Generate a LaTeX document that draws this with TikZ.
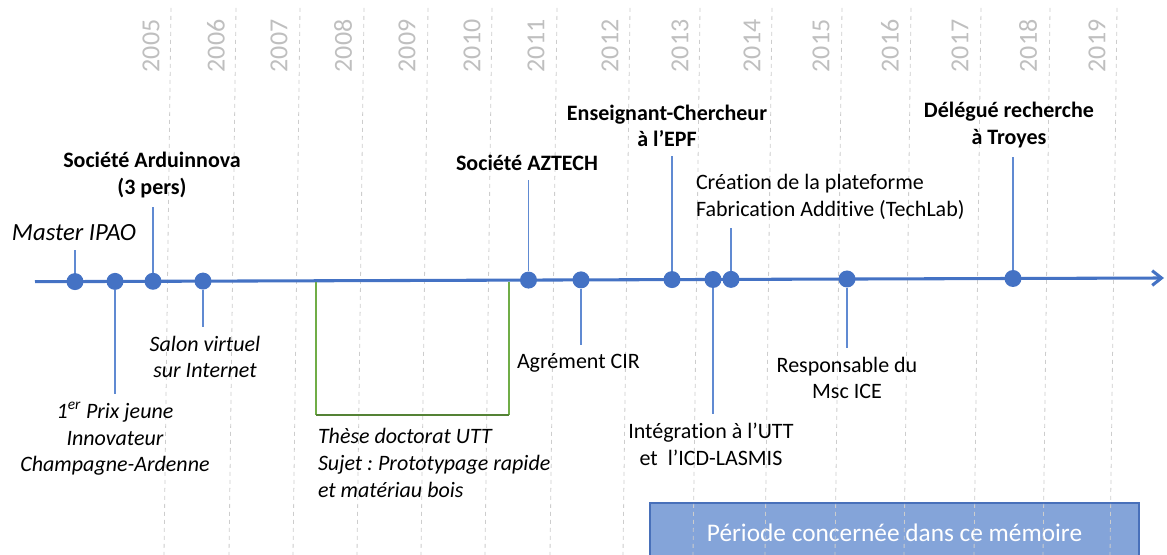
\documentclass[tikz,border=0pt]{standalone}
\usepackage{fontspec}
\setmainfont{Carlito}[Ligatures={TeX,NoCommon}]
\usetikzlibrary{positioning,arrows.meta}
\frenchspacing

\definecolor{tlBlue}{RGB}{68,114,196}
\definecolor{stemBlue}{RGB}{96,138,210}
\definecolor{yearGray}{RGB}{191,191,191}
\definecolor{gridGray}{RGB}{205,205,205}
\definecolor{theseGreen}{RGB}{112,173,71}
\definecolor{theseDark}{RGB}{84,130,53}
\definecolor{periodFill}{RGB}{122,156,214}
\definecolor{periodLine}{RGB}{72,112,186}

\tikzset{
  evt/.style={circle,fill=tlBlue,inner sep=0pt,minimum size=12.75pt},
  stemline/.style={stemBlue,line width=0.9pt},
  lbl/.style={inner sep=0.75pt,outer sep=6pt,font=\fontsize{16.5}{20}\selectfont},
  lblb/.style={lbl,font=\fontsize{16.5}{20}\selectfont\bfseries},
  lbli/.style={lbl,font=\fontsize{16.5}{20}\selectfont\itshape},
  yearlbl/.style={rotate=90,inner sep=0pt,text=yearGray,font=\fontsize{19.5}{20}\selectfont},
  yeargrid/.style={gridGray,dashed,line width=0.6pt},
}

\begin{document}
\begin{tikzpicture}[x=0.75pt,y=0.75pt,yscale=-1,xscale=1]
\useasboundingbox (0,0) rectangle (1167,555);

% Period box
\node [fill=periodFill,fill opacity=0.92,text opacity=1,draw=periodLine,line width=0.8pt,
  minimum width=366.75pt,minimum height=45pt,text=white,font=\fontsize{19}{21}\selectfont]
  (period) at (894.5,533) {Période concernée dans ce mémoire};

% Year grid
\foreach \x in {171,236,300,364,428,492,557,630,700,772,842,911,981,1050,1117}
  \draw [yeargrid] (\x,8) -- (\x-7,555);

\foreach \yr/\x in {2005/151,2006/216,2007/279,2008/343,2009/407,2010/472,2011/536,
  2012/610,2013/680,2014/752,2015/821,2016/890,2017/960,2018/1028,2019/1097}
  \node [yearlbl] (y\yr) at (\x,46) {\yr};

% Timeline
\coordinate (tlS) at (35,281.7);
\coordinate (tlE) at (1164,278);
\draw [tlBlue,line width=2.3pt,-{Straight Barb[length=7pt,width=11pt]}] (tlS) -- (tlE);

% Thesis bracket
\coordinate (thA) at (316,282);
\coordinate (thB) at (316,415);
\coordinate (thC) at (509,415);
\coordinate (thD) at (509,282);
\draw [theseGreen,line width=0.9pt] (thA) -- (thB);
\draw [theseGreen,line width=0.9pt] (thC) -- (thD);
\draw [theseDark,line width=1.8pt] (thB) -- (thC);

% Text Nodes
\draw (3,233) node (lIPAO) [lbli,anchor=west,font=\fontsize{18.5}{22}\selectfont\itshape] {Master IPAO};

\draw (152,175) node (lArd) [lblb,align=center] {Société Arduinnova\\(3 pers)};

\draw (527,163) node (lAZ) [lblb] {Société AZTECH};

\draw (667,126) node (lEPF) [lblb,align=center] {Enseignant-Chercheur\\à l’EPF};

\draw (687,197) node (lTech) [lbl,anchor=west,align=left] {Création de la plateforme\\Fabrication Additive (TechLab)};

\draw (1009,125) node (lTroy) [lblb,align=center] {Délégué recherche\\à Troyes};

\draw (205,357) node (lSalon) [lbli,align=center] {Salon virtuel\\sur Internet};

\draw (115,439) node (lPrix) [lbli,align=center] {1\textsuperscript{er} Prix jeune\\Innovateur\\Champagne-Ardenne};

\draw (309,463) node (lThese) [lbli,anchor=west,align=left] {Thèse doctorat UTT\\Sujet : Prototypage rapide\\et matériau bois};

\draw (508,363) node (lCIR) [lbl,anchor=west] {Agrément CIR};

\draw (711,444) node (lUTT) [lbl,align=center] {Intégration à l’UTT\\et~~l’ICD-LASMIS};

\draw (847,378) node (lMsc) [lbl,align=center] {Responsable du\\Msc ICE};

% Events
\node [evt] (dIPAO) at (75,281.6) {};
\node [evt] (dPrix) at (115,281.4) {};
\node [evt] (dArd) at (153,281.3) {};
\node [evt] (dSalon) at (203,281.1) {};
\node [evt] (dAZ) at (528.5,280.1) {};
\node [evt] (dCIR) at (581,279.9) {};
\node [evt] (dEPF) at (672,279.6) {};
\node [evt] (dUTT) at (713,279.5) {};
\node [evt] (dTech) at (731,279.4) {};
\node [evt] (dMsc) at (847,279) {};
\node [evt] (dTroy) at (1013,278.5) {};

% Stems up
\draw [stemline] (dIPAO.north) -- (dIPAO |- lIPAO.south);
\draw [stemline] (dArd.north) -- (dArd |- lArd.south);
\draw [stemline] (dAZ.north) -- (dAZ |- lAZ.south);
\draw [stemline] (dEPF.north) -- (dEPF |- lEPF.south);
\draw [stemline] (dTech.north) -- (dTech |- lTech.south);
\draw [stemline] (dTroy.north) -- (dTroy |- lTroy.south);

% Stems down
\draw [stemline] (dPrix.south) -- (dPrix |- lPrix.north);
\draw [stemline] (dSalon.south) -- (dSalon |- lSalon.north);
\draw [stemline] (dCIR.south) -- (dCIR |- lCIR.north);
\draw [stemline] (dUTT.south) -- (dUTT |- lUTT.north);
\draw [stemline] (dMsc.south) -- (dMsc |- lMsc.north);

\end{tikzpicture}
\end{document}
